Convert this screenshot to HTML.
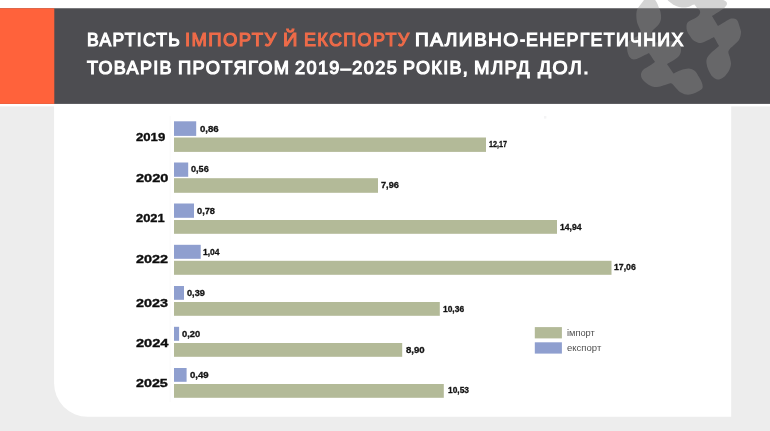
<!DOCTYPE html>
<html lang="uk">
<head>
<meta charset="utf-8">
<title>Вартість імпорту й експорту паливно-енергетичних товарів протягом 2019–2025 років, млрд дол.</title>
<style>
html,body{margin:0;padding:0;}
body{width:770px;height:431px;overflow:hidden;background:#ededed;position:relative;font-family:"Liberation Sans",sans-serif;}
#stage{position:absolute;left:0;top:0;width:770px;height:431px;overflow:hidden;background:#ededed;}
#bg{position:absolute;left:0;top:0;}
#logo{position:absolute;left:616px;top:0;}
h1,p{margin:0;padding:0;font-weight:inherit;font-size:inherit;}
.t{position:absolute;white-space:nowrap;transform-origin:0 0;display:block;}
.w,.o{font-weight:400;font-size:18.8px;line-height:18.8px;color:#fff;-webkit-text-stroke:1.15px currentColor;}
.o{color:#ee6b49;}
.yr{font-weight:700;font-size:11.6px;line-height:11.6px;color:#0d0d0d;-webkit-text-stroke:0.35px #0d0d0d;}
.v{font-weight:700;font-size:8.6px;line-height:8.6px;color:#141414;-webkit-text-stroke:0.3px #141414;}
.lg{font-weight:400;font-size:8.2px;line-height:8.2px;color:#4f4f4f;}
#bars{position:absolute;left:0;top:0;}
.sg{fill:#b3ba98;}
.sb{fill:#8f9fcf;}
</style>
</head>
<body>
<div id="stage">
  <svg id="bg" width="770" height="431" viewBox="0 0 770 431" aria-hidden="true">
    <rect x="0" y="0" width="770" height="431" fill="#ededed"/>
    <rect x="0" y="0" width="770" height="9" fill="#ffffff"/>
    <rect x="0" y="103" width="770" height="3.4" fill="#ffffff"/>
    <path d="M54.1 103H731.2V416.7H87.6A33.5 33.5 0 0 1 54.1 383.2Z" fill="#ffffff"/>
    <rect x="0" y="8.25" width="770" height="95.65" fill="#4d4d51"/>
    <rect x="0" y="8.25" width="54.3" height="95.65" fill="#ff623b"/>
  </svg>

  <svg id="logo" width="154" height="104" viewBox="616 0 154 104" aria-hidden="true">
    <path d="M647.0 -4.0C648.3 -4.5 650.6 -3.8 652.0 -3.0C653.4 -2.2 654.6 -0.7 655.5 0.5C656.4 1.7 656.9 2.8 657.5 4.0C658.1 5.2 658.5 6.8 659.0 8.0C659.5 9.2 660.0 9.8 660.3 11.0C660.6 12.2 660.9 14.0 661.0 15.5C661.1 17.0 661.1 18.6 660.8 20.0C660.5 21.4 659.8 22.8 659.0 24.0C658.2 25.2 657.0 26.2 656.0 27.2C655.0 28.2 653.8 29.0 653.0 30.0C652.2 31.0 651.7 31.7 651.5 33.0C651.3 34.3 651.4 36.4 652.0 38.0C652.6 39.6 652.8 42.0 655.0 42.5C657.2 43.0 661.5 41.1 665.0 41.0C668.5 40.9 673.5 41.3 676.0 42.0C678.5 42.7 679.2 43.5 680.0 45.0C680.8 46.5 681.2 49.2 681.0 51.0C680.8 52.8 680.2 54.5 679.0 56.0C677.8 57.5 676.0 58.7 674.0 60.0C672.0 61.3 667.0 64.0 667.0 64.0C667.0 64.0 673.5 73.5 673.5 73.5C673.5 73.5 678.1 71.2 680.0 70.5C681.9 69.8 683.3 69.3 685.0 69.0C686.7 68.7 688.3 68.4 690.0 68.7C691.7 69.0 693.5 69.6 695.0 71.0C696.5 72.4 697.8 75.0 699.0 77.0C700.2 79.0 701.4 81.2 702.0 83.0C702.6 84.8 703.0 86.7 702.5 88.0C702.0 89.3 700.8 90.0 699.0 91.0C697.2 92.0 694.2 93.4 692.0 94.0C689.8 94.6 688.0 94.8 686.0 94.5C684.0 94.2 681.8 93.2 680.0 92.0C678.2 90.8 676.5 88.5 675.0 87.0C673.5 85.5 672.7 83.6 671.0 83.3C669.3 83.0 667.3 84.4 665.0 85.0C662.7 85.6 659.5 86.9 657.0 87.0C654.5 87.1 652.3 86.7 650.0 85.5C647.7 84.3 644.5 81.8 643.0 80.0C641.5 78.2 641.0 76.7 641.0 75.0C641.0 73.3 641.5 71.6 643.0 70.0C644.5 68.4 648.0 66.8 650.0 65.5C652.0 64.2 655.0 62.0 655.0 62.0C655.0 62.0 649.0 53.0 649.0 53.0C649.0 53.0 642.5 56.4 640.0 57.5C637.5 58.6 635.7 59.5 634.0 59.5C632.3 59.5 631.1 58.8 630.0 57.5C628.9 56.2 628.0 54.1 627.5 52.0C627.0 49.9 626.8 46.8 627.0 45.0C627.2 43.2 627.8 42.2 629.0 41.0C630.2 39.8 632.2 39.0 634.0 38.0C635.8 37.0 638.4 36.2 639.5 35.0C640.6 33.8 640.5 32.2 640.5 31.0C640.5 29.8 639.8 29.2 639.3 28.0C638.8 26.8 638.1 25.5 637.6 24.0C637.1 22.5 636.7 21.0 636.5 19.0C636.3 17.0 636.2 13.8 636.5 12.0C636.8 10.2 637.2 9.3 638.0 8.0C638.8 6.7 640.0 5.3 641.0 4.0C642.0 2.7 643.0 1.3 644.0 0.0C645.0 -1.3 645.7 -3.5 647.0 -4.0ZM668.0 -1.0C666.5 0.3 669.7 1.8 671.0 3.0C672.3 4.2 674.2 5.2 676.0 6.0C677.8 6.8 680.0 7.3 682.0 7.5C684.0 7.7 686.3 7.4 688.0 7.0C689.7 6.6 690.9 5.6 692.0 5.2C693.1 4.8 694.5 4.6 694.5 4.6C694.5 4.6 696.2 7.1 697.0 8.0C697.8 8.9 699.0 9.2 699.5 10.0C700.0 10.8 700.4 11.8 700.0 13.0C699.6 14.2 699.0 15.5 697.0 17.0C695.0 18.5 689.8 20.2 688.0 22.0C686.2 23.8 686.5 26.2 686.5 28.0C686.5 29.8 687.4 31.7 688.0 33.0C688.6 34.3 689.2 34.8 690.0 36.0C690.8 37.2 691.5 38.8 693.0 40.0C694.5 41.2 697.2 42.7 699.0 43.0C700.8 43.3 701.5 43.0 704.0 42.0C706.5 41.0 714.0 37.0 714.0 37.0C714.0 37.0 719.0 46.0 719.0 46.0C719.0 46.0 712.1 51.7 710.0 54.0C707.9 56.3 706.9 57.8 706.5 60.0C706.1 62.2 706.8 65.2 707.5 67.5C708.2 69.8 709.5 72.3 710.5 74.0C711.5 75.7 712.3 76.6 713.5 77.5C714.7 78.4 716.1 79.5 717.5 79.6C718.9 79.7 720.7 78.9 722.0 78.2C723.3 77.5 724.3 76.9 725.5 75.5C726.7 74.1 728.4 71.9 729.3 70.0C730.2 68.1 730.9 66.0 731.0 64.0C731.1 62.0 730.4 60.2 730.0 58.0C729.6 55.8 727.8 53.2 728.5 51.0C729.2 48.8 732.2 46.8 734.0 45.0C735.8 43.2 737.8 42.0 739.0 40.0C740.2 38.0 740.8 35.0 741.0 33.0C741.2 31.0 740.7 30.2 740.0 28.0C739.3 25.8 738.3 21.6 737.0 20.0C735.7 18.4 733.5 18.5 732.0 18.5C730.5 18.5 730.3 18.8 728.0 20.0C725.7 21.2 718.0 26.0 718.0 26.0C718.0 26.0 712.0 16.0 712.0 16.0C712.0 16.0 720.8 10.6 723.0 9.0C725.2 7.4 724.8 7.3 725.5 6.5C726.2 5.7 726.9 4.8 727.0 4.0C727.1 3.2 726.8 2.2 726.0 1.5C725.2 0.8 723.8 0.2 722.0 -0.5C720.2 -1.2 718.7 -2.1 715.0 -3.0C711.3 -3.9 705.8 -5.7 700.0 -6.0C694.2 -6.3 685.3 -5.8 680.0 -5.0C674.7 -4.2 669.5 -2.3 668.0 -1.0Z" fill="#909090" fill-opacity="0.39"/>
  </svg>
  <h1>
    <span class="t w" style="left:87.13px;top:31px;transform:scaleX(0.9350);letter-spacing:1.40px;">ВАРТІСТЬ</span>
    <span class="t o" style="left:185.10px;top:31px;transform:scaleX(0.9861);letter-spacing:1.40px;">ІМПОРТУ</span>
    <span class="t o" style="left:283.11px;top:31px;transform:scaleX(1.0704);">Й</span>
    <span class="t o" style="left:303.61px;top:31px;transform:scaleX(0.9576);letter-spacing:1.40px;">ЕКСПОРТУ</span>
    <span class="t w" style="left:415.05px;top:31px;transform:scaleX(1.0183);letter-spacing:1.40px;">ПАЛИВНО</span><span class="t w" style="left:520.05px;top:31px;transform:scaleX(0.8205);">-</span><span class="t w" style="left:526.32px;top:31px;transform:scaleX(0.9455);letter-spacing:1.40px;">ЕНЕРГЕТИЧНИХ</span>
    <span class="t w" style="left:86.99px;top:59px;transform:scaleX(0.9576);letter-spacing:1.40px;">ТОВАРІВ</span>
    <span class="t w" style="left:177.69px;top:59px;transform:scaleX(0.9743);letter-spacing:1.40px;">ПРОТЯГОМ</span>
    <span class="t w" style="left:294.65px;top:59px;transform:scaleX(0.9670);letter-spacing:1.40px;">2019–2025</span>
    <span class="t w" style="left:402.71px;top:59px;transform:scaleX(0.9592);letter-spacing:1.40px;">РОКІВ,</span>
    <span class="t w" style="left:474.38px;top:59px;transform:scaleX(0.9920);letter-spacing:1.40px;">МЛРД</span>
    <span class="t w" style="left:537.70px;top:59px;transform:scaleX(1.0350);letter-spacing:1.40px;">ДОЛ.</span>
  </h1>
  <div id="chart">
    <svg id="bars" width="770" height="431" viewBox="0 0 770 431" aria-hidden="true">
      <rect x="169.6" y="116" width="1" height="286" fill="#fafafb"/>
      <rect x="544" y="116" width="2.4" height="2.6" fill="#f4f4f5"/>
      <rect class="sb" x="174.0" y="121.3" width="22.2" height="14.6"/><rect class="sg" x="174.0" y="137.5" width="312.0" height="14.4"/>
      <rect class="sb" x="174.0" y="162.5" width="14.2" height="14.3"/><rect class="sg" x="174.0" y="178.2" width="204.0" height="14.6"/>
      <rect class="sb" x="174.0" y="203.5" width="20.0" height="14.3"/><rect class="sg" x="174.0" y="220.0" width="383.0" height="13.8"/>
      <rect class="sb" x="174.0" y="244.8" width="26.7" height="14.0"/><rect class="sg" x="174.0" y="260.8" width="437.5" height="14.0"/>
      <rect class="sb" x="174.0" y="286.0" width="10.0" height="13.8"/><rect class="sg" x="174.0" y="302.0" width="265.8" height="13.8"/>
      <rect class="sb" x="174.0" y="326.8" width="5.1" height="14.0"/><rect class="sg" x="174.0" y="343.0" width="228.2" height="13.8"/>
      <rect class="sb" x="174.0" y="368.0" width="12.6" height="13.8"/><rect class="sg" x="174.0" y="384.0" width="269.8" height="13.8"/>
      <rect class="sg" x="534.8" y="327.1" width="27.1" height="11.3"/><rect class="sb" x="534.8" y="342.3" width="27.1" height="11.3"/>
    </svg>
    <div class="row"><span class="t yr" style="left:135.91px;top:131px;transform:scaleX(1.1335);">2019</span><span class="t v" style="left:199.61px;top:125px;transform:scaleX(1.1193);">0,86</span><span class="t v" style="left:488.76px;top:140px;transform:scaleX(0.8430);">12,17</span></div>
    <div class="row"><span class="t yr" style="left:135.86px;top:172px;transform:scaleX(1.2590);">2020</span><span class="t v" style="left:191.04px;top:165px;transform:scaleX(1.0571);">0,56</span><span class="t v" style="left:381.03px;top:181px;transform:scaleX(1.0695);">7,96</span></div>
    <div class="row"><span class="t yr" style="left:135.91px;top:212px;transform:scaleX(1.1123);">2021</span><span class="t v" style="left:196.63px;top:207px;transform:scaleX(1.0762);">0,78</span><span class="t v" style="left:559.88px;top:223px;transform:scaleX(1.0008);">14,94</span></div>
    <div class="row"><span class="t yr" style="left:135.87px;top:253px;transform:scaleX(1.2430);">2022</span><span class="t v" style="left:202.89px;top:248px;transform:scaleX(0.9896);">1,04</span><span class="t v" style="left:613.88px;top:263px;transform:scaleX(1.0132);">17,06</span></div>
    <div class="row"><span class="t yr" style="left:135.87px;top:297px;transform:scaleX(1.2372);">2023</span><span class="t v" style="left:186.83px;top:289px;transform:scaleX(1.0695);">0,39</span><span class="t v" style="left:443.09px;top:305px;transform:scaleX(0.9794);">10,36</span></div>
    <div class="row"><span class="t yr" style="left:135.86px;top:337px;transform:scaleX(1.2596);">2024</span><span class="t v" style="left:181.63px;top:330px;transform:scaleX(1.0878);">0,20</span><span class="t v" style="left:405.71px;top:346px;transform:scaleX(1.1193);">8,90</span></div>
    <div class="row"><span class="t yr" style="left:135.87px;top:377px;transform:scaleX(1.2315);">2025</span><span class="t v" style="left:190.01px;top:371px;transform:scaleX(1.1193);">0,49</span><span class="t v" style="left:447.50px;top:386px;transform:scaleX(0.9746);">10,53</span></div>
    <div class="legend">
      <span class="t lg" style="left:566.95px;top:330px;transform:scaleX(1.1315);">імпорт</span>
      <span class="t lg" style="left:566.62px;top:345px;transform:scaleX(1.1644);">експорт</span>
    </div>
  </div>
</div>
</body>
</html>
